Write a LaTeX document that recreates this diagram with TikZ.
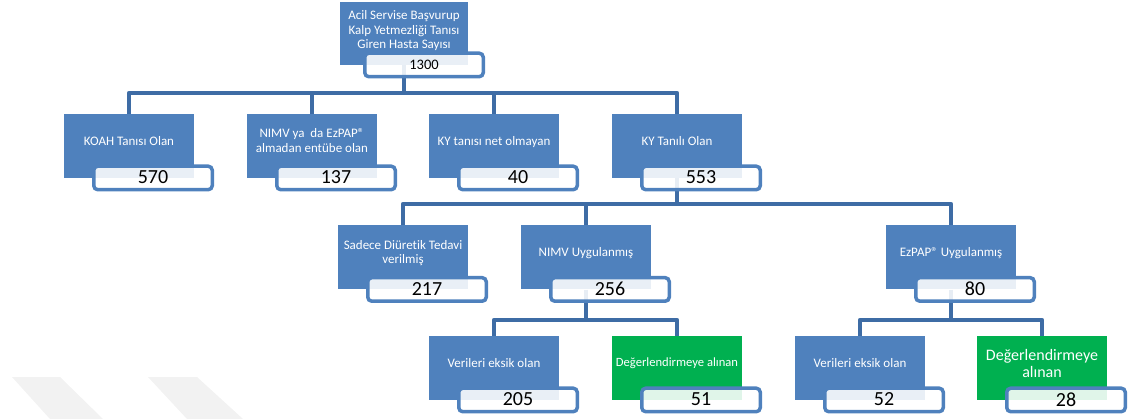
\documentclass[tikz,border=0pt]{standalone}
\usepackage{fontspec}
\setmainfont{Carlito}[Ligatures=NoCommon]
\usetikzlibrary{positioning, backgrounds}
\definecolor{boxblue}{RGB}{79,129,189}
\definecolor{linkblue}{RGB}{62,108,165}
\definecolor{boxgreen}{RGB}{0,176,80}
\definecolor{markgray}{RGB}{242,242,242}

\tikzset{
  casebox/.style={rectangle, fill=boxblue, text=white, minimum width=130pt, minimum height=64pt, inner sep=2pt, align=center, text depth=11pt, font=\fontsize{13}{14.5}\selectfont},
  greenbox/.style={casebox, fill=boxgreen},
  countbox/.style={rectangle, draw=boxblue, line width=3.5pt, rounded corners=4pt, fill=white, fill opacity=0.88, text opacity=1, minimum width=118.5pt, minimum height=23.5pt, inner sep=0pt, text depth=1pt, font=\fontsize{20}{20}\selectfont, below=-13.75pt of #1, xshift=24pt},
  link/.style={draw=linkblue, line width=4.5pt, line join=round}
}

\begin{document}
\begin{tikzpicture}[x=1pt, y=-1pt]
  \useasboundingbox (0,0) rectangle (1129,419);

  % top
  \node[casebox, minimum width=128pt, minimum height=63pt, text depth=8pt] (top) at (404,33.5) {Acil Servise Başvurup\\Kalp Yetmezliği Tanısı\\Giren Hasta Sayısı};
  \node[countbox=top, xshift=-4pt, font=\fontsize{14.5}{15}\selectfont] (topn) {1300};

  % first level
  \node[casebox] (koah) at (129,146) {KOAH Tanısı Olan};
  \node[countbox=koah] (koahn) {570};
  \node[casebox] (entube) at (312,146) {NIMV ya\ \ da EzPAP®\\almadan entübe olan};
  \node[countbox=entube] (entuben) {137};
  \node[casebox] (kynet) at (494,146) {KY tanısı net olmayan};
  \node[countbox=kynet] (kynetn) {40};
  \node[casebox] (ky) at (677,146) {KY Tanılı Olan};
  \node[countbox=ky] (kyn) {553};

  % second level
  \node[casebox] (diuretik) at (403,257.5) {Sadece Diüretik Tedavi\\verilmiş};
  \node[countbox=diuretik] (diuretikn) {217};
  \node[casebox] (nimv) at (586,257.5) {NIMV Uygulanmış};
  \node[countbox=nimv] (nimvn) {256};
  \node[casebox] (ezpap) at (951,257.5) {EzPAP® Uygulanmış};
  \node[countbox=ezpap] (ezpapn) {80};

  % third level
  \node[casebox] (eksika) at (494,368) {Verileri eksik olan};
  \node[countbox=eksika] (eksikan) {205};
  \node[greenbox, font=\fontsize{12.6}{14}\selectfont, inner sep=0pt] (alinana) at (677,368) {Değerlendirmeye alınan};
  \node[countbox=alinana] (alinanan) {51};
  \node[casebox] (eksikb) at (860,368) {Verileri eksik olan};
  \node[countbox=eksikb] (eksikbn) {52};
  \node[greenbox, font=\fontsize{16}{17}\selectfont, text depth=10pt] (alinanb) at (1042,368) {Değerlendirmeye\\alınan};
  \node[countbox=alinanb] (alinanbn) {28};

  \begin{scope}[on background layer]
    \fill[markgray] (12,377) -- (60,377) -- (103,419) -- (50,419) -- cycle;
    \fill[markgray] (148,377) -- (197,377) -- (243,419) -- (187,419) -- cycle;

    \coordinate (bara) at (0,93);
    \coordinate (barb) at (0,204);
    \coordinate (barc) at (0,320);

    \draw[link] (top.south) -- (bara -| top.south);
    \draw[link] (koah.north) |- (bara -| top.south) -| (ky.north);
    \draw[link] (entube.north) -- (bara -| entube.north);
    \draw[link] (kynet.north) -- (bara -| kynet.north);

    \draw[link] (ky.south) -- (barb -| ky.south);
    \draw[link] (diuretik.north) |- (barb -| ky.south) -| (ezpap.north);
    \draw[link] (nimv.north) -- (barb -| nimv.north);

    \draw[link] (nimv.south) -- (barc -| nimv.south);
    \draw[link] (eksika.north) |- (barc -| nimv.south) -| (alinana.north);
    \draw[link] (ezpap.south) -- (barc -| ezpap.south);
    \draw[link] (eksikb.north) |- (barc -| ezpap.south) -| (alinanb.north);
  \end{scope}
\end{tikzpicture}
\end{document}
